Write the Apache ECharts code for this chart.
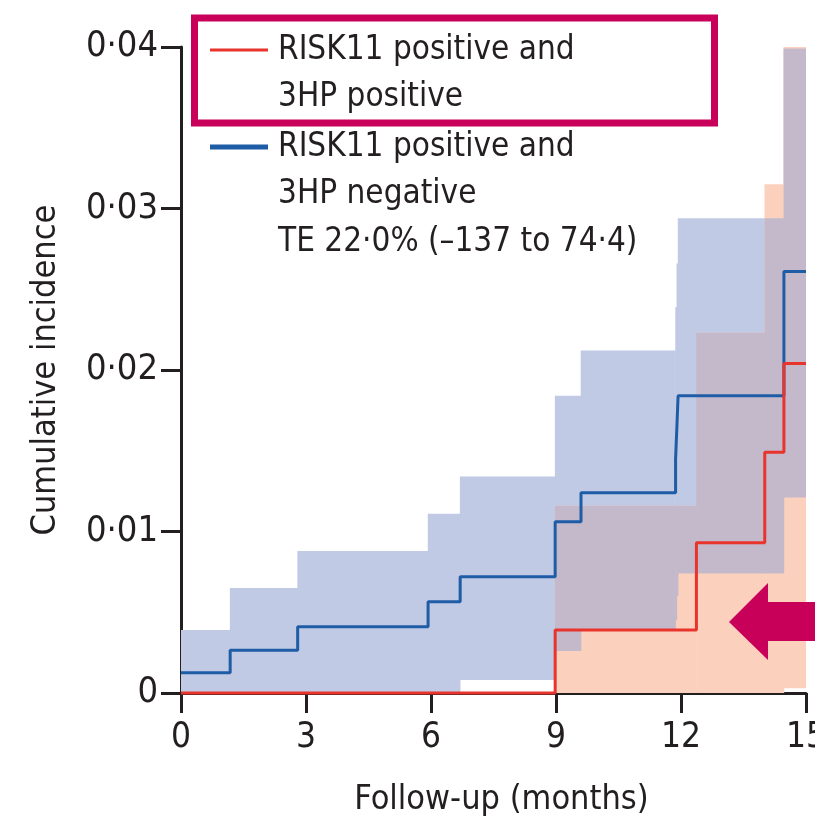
<!DOCTYPE html>
<html><head><meta charset="utf-8">
<script src="https://cdn.jsdelivr.net/npm/echarts@6/dist/echarts.min.js"></script>
<style>html,body{margin:0;padding:0;background:#fff}#c{width:815px;height:818px}</style>
</head><body><div id="c"></div>
<script>
// ---- data ----
const blueTimes    = [0, 1.18, 2.8, 5.93, 6.7, 8.98, 9.6, 11.87, 11.9, 11.93, 14.47, 15];
const blueEstimate = [0.00125, 0.00265, 0.0041, 0.00565, 0.0072, 0.0106, 0.0124, 0.0145, 0.0164, 0.0184, 0.0261];
const blueUpper    = [0.0039, 0.0065, 0.0088, 0.0111, 0.0134, 0.0184, 0.0212, 0.0239, 0.0266, 0.0294, 0.0399];
const blueLower    = [0, 0, 0, 0, 0.0008, 0.0026, 0.0039, 0.0045, 0.0060, 0.0074, 0.0121];
const redTimes     = [0, 8.98, 12.37, 14.01, 14.47, 15];
const redEstimate  = [0, 0.0039, 0.0093, 0.0149, 0.0204];
const redUpper     = [null, 0.0116, 0.0223, 0.0315, 0.0402];
const redLower     = [null, 0, 0, 0, 0.0003];
const yTickLabels  = ['0', '0·01', '0·02', '0·03', '0·04'];
const legendLines  = ['RISK11 positive and', '3HP positive', 'RISK11 positive and', '3HP negative', 'TE 22·0% (–137 to 74·4)'];

// ---- helpers ----
function stepLine(times, vals){
  const d = vals.map((v,i)=>[times[i], v]);
  d.push([times[times.length-1], vals[vals.length-1]]);
  return d;
}
function bandRects(times, lo, hi){
  const r = [];
  for (let i=0;i<lo.length;i++){ if (lo[i]!==null && hi[i]!==null) r.push([times[i], times[i+1], lo[i], hi[i]]); }
  return r;
}
function lookup(times, arr, t){
  for (let i=0;i<arr.length;i++){ if (t>=times[i] && t<times[i+1]) return arr[i]; }
  return null;
}
function overlapRects(){
  const bp = Array.from(new Set(blueTimes.concat(redTimes))).sort((a,b)=>a-b);
  const r = [];
  for (let i=0;i<bp.length-1;i++){
    const m = (bp[i]+bp[i+1])/2;
    const bl = lookup(blueTimes, blueLower, m), bu = lookup(blueTimes, blueUpper, m);
    const rl = lookup(redTimes, redLower, m), ru = lookup(redTimes, redUpper, m);
    if (bl===null||bu===null||rl===null||ru===null) continue;
    const lo = Math.max(bl, rl), hi = Math.min(bu, ru);
    if (hi>lo) r.push([bp[i], bp[i+1], lo, hi]);
  }
  return r;
}
function rectSeries(data, color, z){
  return {
    type:'custom', data:data, z:z, silent:true, clip:true,
    encode:{x:[0,1], y:[2,3]},
    renderItem:function(params, api){
      const p0 = api.coord([api.value(0), api.value(3)]);
      const p1 = api.coord([api.value(1), api.value(2)]);
      return {type:'rect', shape:{x:p0[0]-0.3, y:p0[1], width:p1[0]-p0[0]+0.6, height:p1[1]-p0[1]}, style:{fill:color}};
    }
  };
}

const FONT = "'DejaVu Sans Condensed', 'DejaVu Sans', sans-serif";
const TXT = '#231f20';
const chart = echarts.init(document.getElementById('c'));
const legendText = (t, x, y) => ({type:'text', z:50, style:{text:t, x:x, y:y, fontSize:33, fontFamily:FONT, fill:TXT, verticalAlign:'middle', align:'left'}});

chart.setOption({
  animation:false,
  backgroundColor:'#fff',
  grid:{left:181, right:9, top:47, bottom:125, containLabel:false, outerBoundsMode:'none'},
  xAxis:{
    type:'value', min:0, max:15, interval:3,
    name:'Follow-up (months)', nameLocation:'middle', nameGap:90,
    nameTextStyle:{fontSize:34, fontFamily:FONT, color:TXT, padding:[0,0,0,16]},
    axisLine:{show:true, onZero:false, lineStyle:{color:TXT, width:3}},
    axisTick:{show:true, length:20, lineStyle:{color:TXT, width:3}},
    axisLabel:{fontSize:35, fontFamily:FONT, color:TXT, margin:27},
    splitLine:{show:false}
  },
  yAxis:{
    type:'value', min:0, max:0.04, interval:0.01,
    name:'Cumulative incidence', nameLocation:'middle', nameGap:118, nameRotate:90,
    nameTextStyle:{fontSize:34, fontFamily:FONT, color:TXT},
    axisLine:{show:true, lineStyle:{color:TXT, width:3}},
    axisTick:{show:true, length:20, lineStyle:{color:TXT, width:3}},
    axisLabel:{fontSize:36, fontFamily:FONT, color:TXT, margin:23,
      formatter:function(v){ return yTickLabels[Math.round(v/0.01)]; }},
    splitLine:{show:false}
  },
  series:[
    rectSeries(bandRects(blueTimes, blueLower, blueUpper), '#c0cae4', 1),
    rectSeries(bandRects(redTimes, redLower, redUpper), '#fbd1bd', 2),
    rectSeries(overlapRects(), '#c3b9cb', 3),
    {type:'line', data:stepLine(blueTimes, blueEstimate), step:'end', symbol:'none', clip:false, z:10,
     lineStyle:{color:'#1f5ca6', width:3}},
    {type:'line', data:stepLine(redTimes, redEstimate), step:'end', symbol:'none', clip:false, z:11,
     lineStyle:{color:'#e8342c', width:3}}
  ],
  graphic:[
    {type:'rect', z:40, shape:{x:194.5, y:18, width:520, height:105}, style:{fill:'none', stroke:'#c8005a', lineWidth:7}},
    {type:'line', z:50, shape:{x1:210, y1:50, x2:268, y2:50}, style:{stroke:'#e8342c', lineWidth:3}},
    legendText(legendLines[0], 278, 50),
    legendText(legendLines[1], 278, 97),
    {type:'line', z:50, shape:{x1:210, y1:147, x2:268, y2:147}, style:{stroke:'#1f5ca6', lineWidth:5}},
    legendText(legendLines[2], 278, 147),
    legendText(legendLines[3], 278, 194),
    legendText(legendLines[4], 278, 242),
    {type:'polygon', z:60, shape:{points:[[729,622],[768,583],[768,602],[815,602],[815,641],[768,641],[768,660]]}, style:{fill:'#c8005a'}}
  ]
});
</script></body></html>
